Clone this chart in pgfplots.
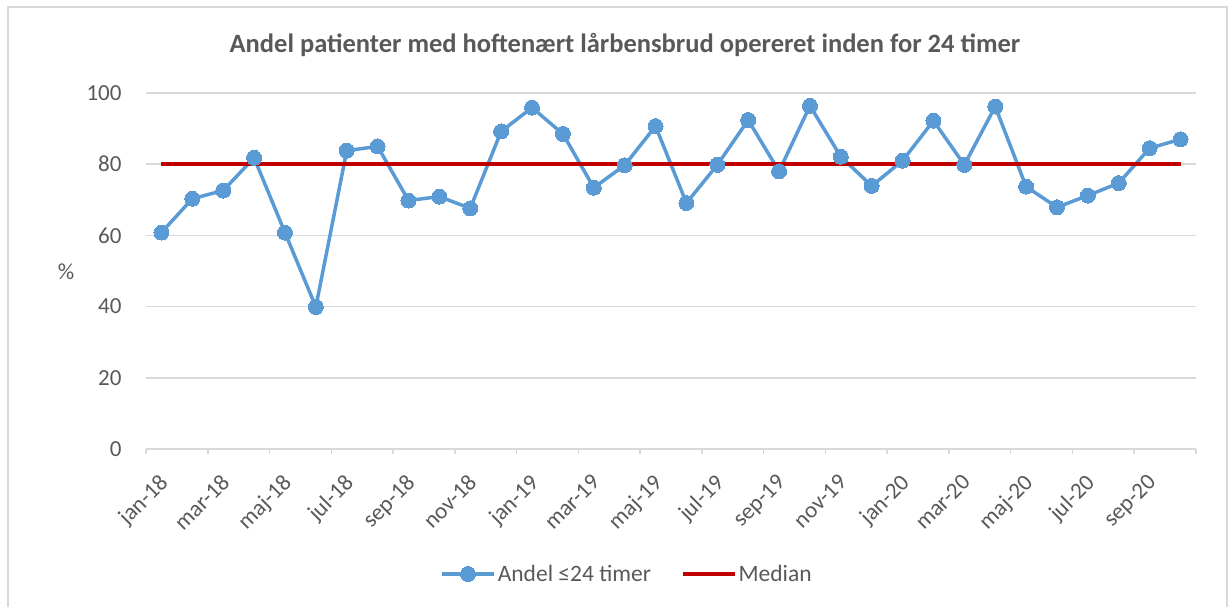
\documentclass[border=0pt]{standalone}
\usepackage{pgfplots}
\pgfplotsset{compat=1.18}
\usepackage{fontspec}
\setmainfont{Carlito}
\definecolor{txt}{HTML}{595959}
\definecolor{gridc}{HTML}{D9D9D9}
\definecolor{blu}{HTML}{5B9BD5}
\definecolor{medred}{HTML}{C00000}
\begin{document}
\begin{tikzpicture}
\useasboundingbox (-146bp,-158bp) rectangle (1084bp,449bp);
\draw[gridc,line width=1.5bp] (-138bp,-170bp) -- (-138bp,442bp) -- (1081bp,442bp) -- (1081bp,-170bp);
\node[text=txt,font=\fontsize{26.5bp}{30bp}\selectfont\bfseries] at (479bp,404bp) {Andel patienter med hoftenært lårbensbrud\ opereret inden for 24 timer};
\node[text=txt,font=\fontsize{23bp}{27bp}\selectfont] at (-80bp,177bp) {\%};
\begin{axis}[
  at={(0,0)}, anchor=origin,
  scale only axis, width=1050bp, height=356bp,
  xmin=0.5, xmax=34.5, ymin=0, ymax=100,
  axis lines*=left,
  y axis line style={draw=none},
  x axis line style={draw=gridc, line width=1.5bp},
  ytick={0,20,40,60,80,100},
  ymajorgrids, xmajorgrids=false, grid style={draw=gridc, line width=1.5bp},
  ytick style={draw=none},
  yticklabel style={text=txt,font=\fontsize{23bp}{27bp}\selectfont, xshift=-16bp},
  xtick={0.5,2.5,...,34.5},
  xticklabels={jan-18,mar-18,maj-18,jul-18,sep-18,nov-18,jan-19,mar-19,maj-19,jul-19,sep-19,nov-19,jan-20,mar-20,maj-20,jul-20,sep-20,{}},
  x tick style={draw=gridc, line width=1.5bp},
  tick align=outside, major tick length=5bp,
  xticklabel style={text=txt,font=\fontsize{23bp}{27bp}\selectfont, xshift=12bp, yshift=-14bp, rotate=45, anchor=north east},
  /pgf/number format/assume math mode=true,
  legend style={at={(axis description cs:0.5,0)}, anchor=center, xshift=-44bp, yshift=-125bp, draw=none, fill=none, legend columns=2, font=\fontsize{23.5bp}{27bp}\selectfont, text=txt, /tikz/every even column/.append style={column sep=28bp}},
  legend cell align=left,
  legend image code/.code={\draw[mark repeat=2,mark phase=2,#1] plot coordinates {(0bp,0bp) (26bp,0bp) (52bp,0bp)};},
  clip=false,
]
\addplot[blu, line width=3.5bp, mark=*, mark size=7.5bp, mark options={fill=blu, draw=blu, line width=0bp}] coordinates {
(1,60.8) (2,70.3) (3,72.6) (4,81.8) (5,60.8) (6,39.9) (7,83.8) (8,85.0) (9,69.8) (10,70.9)
(11,67.6) (12,89.2) (13,95.9) (14,88.5) (15,73.4) (16,79.7) (17,90.7) (18,69.1) (19,79.8) (20,92.4)
(21,78.0) (22,96.4) (23,82.1) (24,73.9) (25,81.0) (26,92.2) (27,79.8) (28,96.2) (29,73.7) (30,67.9)
(31,71.2) (32,74.7) (33,84.5) (34,87.0)};
\addlegendentry{Andel ≤24 timer}
\addplot[medred, line width=3.5bp] coordinates {(1,80) (34,80)};
\addlegendentry{Median}
\end{axis}
\end{tikzpicture}
\end{document}
